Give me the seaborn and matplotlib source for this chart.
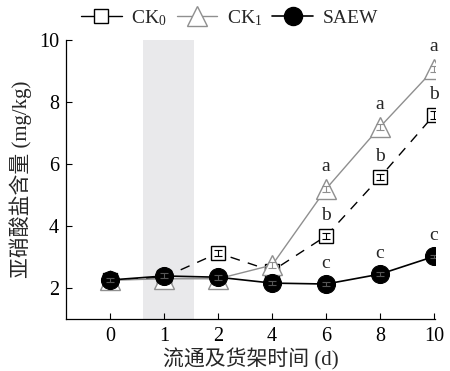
import matplotlib
matplotlib.use("Agg")
import matplotlib.pyplot as plt
import seaborn as sns
import numpy as np
import pandas as pd
from matplotlib.lines import Line2D

# Storage / shelf time categories (days)
days = ["0", "1", "2", "4", "6", "8", "10"]

# Nitrite content (mg/kg)
ck0 = [2.25, 2.35, 3.13, 2.55, 3.68, 5.58, 7.58]
ck1 = [2.25, 2.30, 2.30, 2.74, 5.20, 7.20, 9.06]
saew = [2.26, 2.39, 2.35, 2.16, 2.13, 2.45, 3.02]

ck0_err = [0.08, 0.08, 0.10, 0.08, 0.10, 0.10, 0.12]
ck1_err = [0.08, 0.08, 0.08, 0.10, 0.10, 0.10, 0.10]
saew_err = [0.08, 0.08, 0.08, 0.06, 0.06, 0.06, 0.06]

# Significance letters for the last three time points
letter_idx = [4, 5, 6]
ck1_letters = ["a", "a", "a"]
ck0_letters = ["b", "b", "b"]
saew_letters = ["c", "c", "c"]

sns.set_style("ticks")
plt.rcParams["font.family"] = ["Liberation Serif", "Noto Sans CJK SC"]
plt.rcParams["mathtext.fontset"] = "custom"
plt.rcParams["mathtext.rm"] = "Liberation Serif"
plt.rcParams["mathtext.it"] = "Liberation Serif"

fig = plt.figure(figsize=(4.5, 3.71), dpi=100)
ax = fig.add_axes([0.147, 0.140, 0.820, 0.752])

pos = np.arange(len(days))
df = pd.DataFrame({"pos": pos, "CK0": ck0, "CK1": ck1, "SAEW": saew})

ax.axvspan(0.61, 1.56, color="#e9e9eb", zorder=0, lw=0)

gray = "#8f8f8f"
sns.lineplot(data=df, x="pos", y="CK0", ax=ax, color="black", lw=1.0,
             marker="s", markersize=10, markerfacecolor="white",
             markeredgecolor="black", markeredgewidth=1.0, zorder=3)
ax.lines[-1].set_dashes((7, 6))
sns.lineplot(data=df, x="pos", y="CK1", ax=ax, color=gray, lw=1.0,
             marker="^", markersize=14, markerfacecolor="white",
             markeredgecolor=gray, markeredgewidth=1.0, zorder=4)
sns.lineplot(data=df, x="pos", y="SAEW", ax=ax, color="black", lw=1.2,
             marker="o", markersize=13, markerfacecolor="black",
             markeredgecolor="black", zorder=5)

ax.errorbar(pos, ck0, yerr=ck0_err, fmt="none", ecolor="black",
            elinewidth=0.8, capsize=3, capthick=0.8, zorder=3.5)
ax.errorbar(pos, ck1, yerr=ck1_err, fmt="none", ecolor=gray,
            elinewidth=0.8, capsize=3, capthick=0.8, zorder=4.5)
ax.errorbar(pos, saew, yerr=saew_err, fmt="none", ecolor="#555555",
            elinewidth=0.8, capsize=3, capthick=0.8, zorder=5.5)

for series, letters, off in [(ck1, ck1_letters, 16), (ck0, ck0_letters, 15),
                             (saew, saew_letters, 15)]:
    for i, lab in zip(letter_idx, letters):
        ax.annotate(lab, (pos[i], series[i]), xytext=(0, off),
                    textcoords="offset points", ha="center", va="center",
                    fontsize=14, zorder=6, annotation_clip=False)

ax.set_xlim(-0.815, 6.02)
ax.set_ylim(1, 10)
ax.set_xticks(pos)
ax.set_xticklabels(days)
ax.set_yticks([2, 4, 6, 8, 10])
ax.tick_params(direction="in", length=4, width=0.8, labelsize=14.5, colors="black")
ax.tick_params(axis="x", pad=6)
ax.tick_params(axis="y", pad=5)
for s in ["top", "right"]:
    ax.spines[s].set_visible(False)
for s in ["left", "bottom"]:
    ax.spines[s].set_linewidth(0.9)
    ax.spines[s].set_color("black")

ax.set_xlabel("流通及货架时间 (d)", fontsize=15, labelpad=1)
ax.set_ylabel("亚硝酸盐含量 (mg/kg)", fontsize=15, labelpad=5)

handles = [
    Line2D([], [], color="black", lw=1.0, marker="s", markersize=10,
           markerfacecolor="white", markeredgecolor="black"),
    Line2D([], [], color=gray, lw=1.0, marker="^", markersize=14,
           markerfacecolor="white", markeredgecolor=gray),
    Line2D([], [], color="black", lw=1.2, marker="o", markersize=13,
           markerfacecolor="black"),
]
labels = [r"CK$_0$", r"CK$_1$", "SAEW"]
fig.legend(handles, labels, loc="center", bbox_to_anchor=(0.51, 0.952),
           ncol=3, frameon=False, fontsize=14, handlelength=2.1,
           handletextpad=0.5, columnspacing=0.5, borderpad=0)

fig.savefig("out.png", dpi=100)
